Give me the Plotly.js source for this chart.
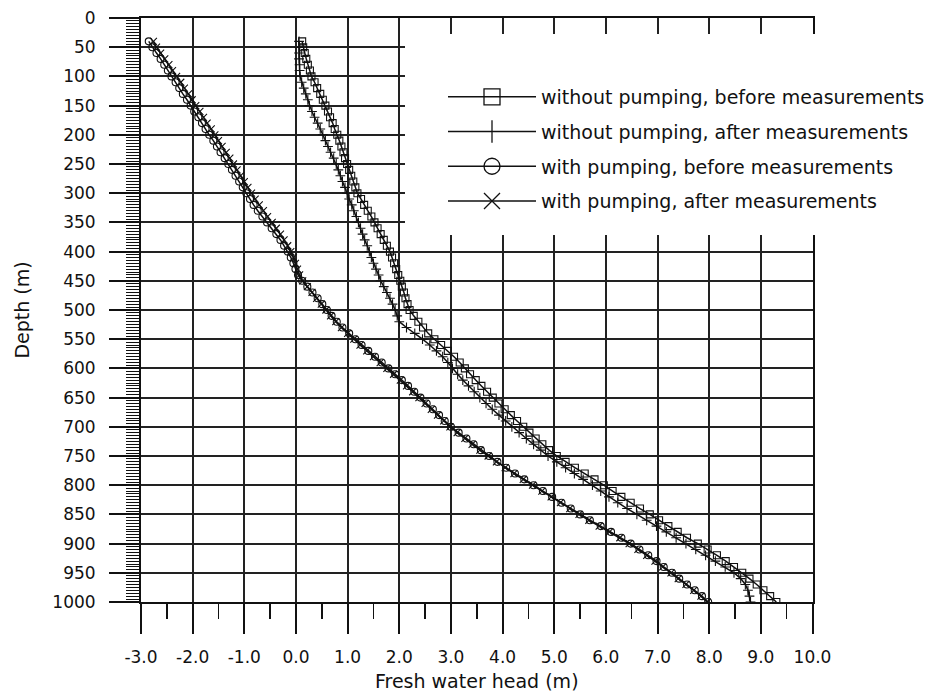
<!DOCTYPE html>
<html>
<head>
<meta charset="utf-8">
<script src="https://cdn.plot.ly/plotly-3.0.1.min.js"></script>
<style>html,body{margin:0;padding:0;background:#fff;}#chart{width:934px;height:692px;}</style>
</head>
<body>
<div id="chart"></div>
<script>
// Depth (m)
const depth = [40,50,60,70,80,90,100,
110,120,130,140,150,160,170,180,190,200,
210,220,230,240,250,260,270,280,290,300,
310,320,330,340,350,360,370,380,390,400,
410,420,430,440,450,460,470,480,490,500,
510,520,530,540,550,560,570,580,590,600,
610,620,630,640,650,660,670,680,690,700,
710,720,730,740,750,760,770,780,790,800,
810,820,830,840,850,860,870,880,890,900,
910,920,930,940,950,960,970,980,990,1000];

// Fresh water head (m)
const noPumpBefore = [0.12,0.14,0.17,0.20,0.23,0.27,0.30,
0.36,0.41,0.47,0.52,0.57,0.62,0.66,0.71,0.75,0.80,
0.84,0.88,0.92,0.95,0.99,1.03,1.07,1.11,1.15,1.19,
1.26,1.32,1.39,1.46,1.52,1.58,1.64,1.70,1.76,1.82,
1.86,1.90,1.94,1.98,2.02,2.05,2.09,2.12,2.16,2.20,
2.28,2.37,2.46,2.56,2.68,2.81,2.94,3.06,3.17,3.27,
3.37,3.48,3.59,3.70,3.81,3.92,4.04,4.16,4.28,4.40,
4.52,4.64,4.77,4.90,5.05,5.22,5.40,5.59,5.78,5.96,
6.13,6.30,6.48,6.66,6.85,7.03,7.21,7.39,7.57,7.78,
7.97,8.15,8.32,8.48,8.64,8.78,8.92,9.05,9.18,9.30];

const noPumpAfter = [0.06,0.06,0.06,0.06,0.07,0.07,0.08,
0.11,0.15,0.19,0.23,0.26,0.31,0.36,0.42,0.47,0.52,
0.57,0.62,0.67,0.73,0.78,0.82,0.86,0.90,0.95,0.99,
1.03,1.08,1.12,1.17,1.21,1.25,1.29,1.33,1.38,1.42,
1.46,1.50,1.55,1.60,1.64,1.70,1.76,1.82,1.87,1.92,
1.96,2.00,2.14,2.30,2.45,2.59,2.72,2.84,2.94,3.03,
3.13,3.23,3.34,3.45,3.56,3.68,3.80,3.93,4.06,4.18,
4.32,4.46,4.60,4.74,4.88,5.05,5.22,5.39,5.56,5.74,
5.90,6.06,6.23,6.41,6.60,6.79,6.98,7.17,7.36,7.55,
7.74,7.93,8.12,8.31,8.48,8.61,8.70,8.75,8.78,8.80];

const pumpBefore = [-2.85,-2.78,-2.70,-2.62,-2.55,-2.48,-2.41,
-2.33,-2.26,-2.19,-2.11,-2.04,-1.97,-1.89,-1.82,-1.75,-1.68,
-1.60,-1.53,-1.46,-1.38,-1.31,-1.24,-1.17,-1.10,-1.03,-0.96,
-0.89,-0.82,-0.74,-0.65,-0.56,-0.47,-0.38,-0.30,-0.23,-0.16,
-0.10,-0.05,-0.01,0.04,0.12,0.22,0.32,0.42,0.51,0.60,
0.69,0.79,0.90,1.03,1.15,1.27,1.40,1.53,1.66,1.79,
1.92,2.05,2.17,2.29,2.41,2.53,2.65,2.77,2.88,3.00,
3.15,3.30,3.44,3.58,3.74,3.90,4.07,4.24,4.42,4.60,
4.78,4.96,5.14,5.32,5.50,5.69,5.90,6.10,6.30,6.48,
6.65,6.82,6.98,7.12,7.28,7.42,7.57,7.72,7.86,7.98];

const pumpAfter = [-2.76,-2.70,-2.62,-2.54,-2.46,-2.39,-2.31,
-2.23,-2.16,-2.08,-2.01,-1.94,-1.86,-1.79,-1.72,-1.64,-1.57,
-1.50,-1.43,-1.35,-1.28,-1.21,-1.14,-1.07,-1.00,-0.93,-0.86,
-0.79,-0.71,-0.63,-0.55,-0.46,-0.38,-0.30,-0.23,-0.16,-0.10,
-0.05,-0.01,0.03,0.07,0.13,0.22,0.31,0.40,0.49,0.58,
0.67,0.77,0.88,1.00,1.12,1.24,1.37,1.50,1.63,1.76,
1.89,2.02,2.14,2.26,2.38,2.50,2.62,2.74,2.86,2.98,
3.12,3.27,3.41,3.56,3.72,3.88,4.05,4.22,4.40,4.58,
4.76,4.94,5.12,5.30,5.48,5.67,5.87,6.07,6.27,6.45,
6.62,6.79,6.95,7.10,7.26,7.40,7.55,7.70,7.84,7.96];

const seriesNames = [
  'without pumping, before measurements',
  'without pumping, after measurements',
  'with pumping, before measurements',
  'with pumping, after measurements'
];

// Axis tick labels
const xTickVals = [-3,-2,-1,0,1,2,3,4,5,6,7,8,9,10];
const xTickText = ['-3.0','-2.0','-1.0','0.0','1.0','2.0','3.0','4.0','5.0','6.0','7.0','8.0','9.0','10.0'];
const yTickVals = [0,50,100,150,200,250,300,350,400,450,500,550,600,650,700,750,800,850,900,950,1000];
const yTickText = ['0','50','100','150','200','250','300','350','400','450','500','550','600','650','700','750','800','850','900','950','1000'];

const seriesValues = [noPumpBefore, noPumpAfter, pumpBefore, pumpAfter];
const symbols = ['square-open', 'cross-thin-open', 'circle-open', 'x-thin-open'];
const legendSymbols = ['square-open', 'line-ns-open', 'circle-open', 'x-thin-open'];

const FONT = 'DejaVu Sans, Arial, sans-serif';
const INK = '#111';
const traces = [];
seriesValues.forEach((vals, i) => {
  traces.push({
    type: 'scatter', mode: 'lines+markers',
    x: vals, y: depth, name: seriesNames[i], showlegend: false,
    line: {color: INK, width: 1.5},
    marker: {symbol: symbols[i], size: 7, color: INK, line: {color: INK, width: 1.1}}
  });
});
// legend entries (no data points of their own)
seriesNames.forEach((nm, i) => {
  traces.push({
    type: 'scatter', mode: 'lines+markers',
    x: [null], y: [null], name: nm, legendgroup: 'g' + i,
    line: {color: INK, width: 1.5},
    marker: {symbol: legendSymbols[i], size: 25, color: INK, line: {color: INK, width: 1.3}}
  });
});

const L = 141, R = 0, T = 18, B = 90;
const W = 934, H = 692;
const pw = W - L - R, ph = H - T - B;
const px2x = p => (p - L) / pw;
const py2y = p => (H - B - p) / ph;

const layout = {
  width: W, height: H,
  margin: {l: L, r: R, t: T, b: B, pad: 0},
  paper_bgcolor: '#fff', plot_bgcolor: '#fff',
  font: {family: FONT, color: INK, size: 17},
  xaxis: {
    domain: [0, px2x(812.5)],
    range: [-3, 10], tickmode: 'array', tickvals: xTickVals, ticktext: xTickText,
    showgrid: true, gridcolor: '#222', gridwidth: 2,
    zeroline: false,
    showline: true, linecolor: INK, linewidth: 2, mirror: true,
    ticks: 'outside', ticklen: 30, tickwidth: 2, tickcolor: INK,
    minor: {dtick: 0.5, tick0: 0, ticks: 'outside', ticklen: 15, tickwidth: 1.5, tickcolor: INK, showgrid: false},
    tickfont: {family: FONT, size: 17, color: INK},
    ticklabelstandoff: 9,
    title: {text: 'Fresh water head (m)', font: {family: FONT, size: 19, color: INK}, standoff: 10}
  },
  yaxis: {
    range: [1000, 0], tickmode: 'array', tickvals: yTickVals, ticktext: yTickText,
    showgrid: true, gridcolor: '#222', gridwidth: 2,
    zeroline: false,
    showline: true, linecolor: INK, linewidth: 2, mirror: true,
    ticks: 'outside', ticklen: 30, tickwidth: 2, tickcolor: INK,
    minor: {dtick: 5, tick0: 0, ticks: 'outside', ticklen: 13, tickwidth: 1, tickcolor: INK, showgrid: false},
    tickfont: {family: FONT, size: 17, color: INK},
    ticklabelstandoff: 10,
    title: {text: 'Depth (m)', font: {family: FONT, size: 19, color: INK}, standoff: 18}
  },
  shapes: [{
    type: 'rect', xref: 'paper', yref: 'paper', layer: 'above',
    x0: px2x(405), x1: 1.0, y0: py2y(235), y1: py2y(34),
    fillcolor: '#fff', line: {width: 0}
  }],
  showlegend: true,
  legend: {
    x: px2x(443), xanchor: 'left', y: py2y(78), yanchor: 'top',
    bgcolor: 'rgba(255,255,255,0)', borderwidth: 0,
    font: {family: FONT, size: 19, color: INK},
    itemwidth: 88, itemsizing: 'trace',
    traceorder: 'grouped', tracegroupgap: 7
  }
};

Plotly.newPlot('chart', traces, layout, {displayModeBar: false, staticPlot: true});
</script>
</body>
</html>
